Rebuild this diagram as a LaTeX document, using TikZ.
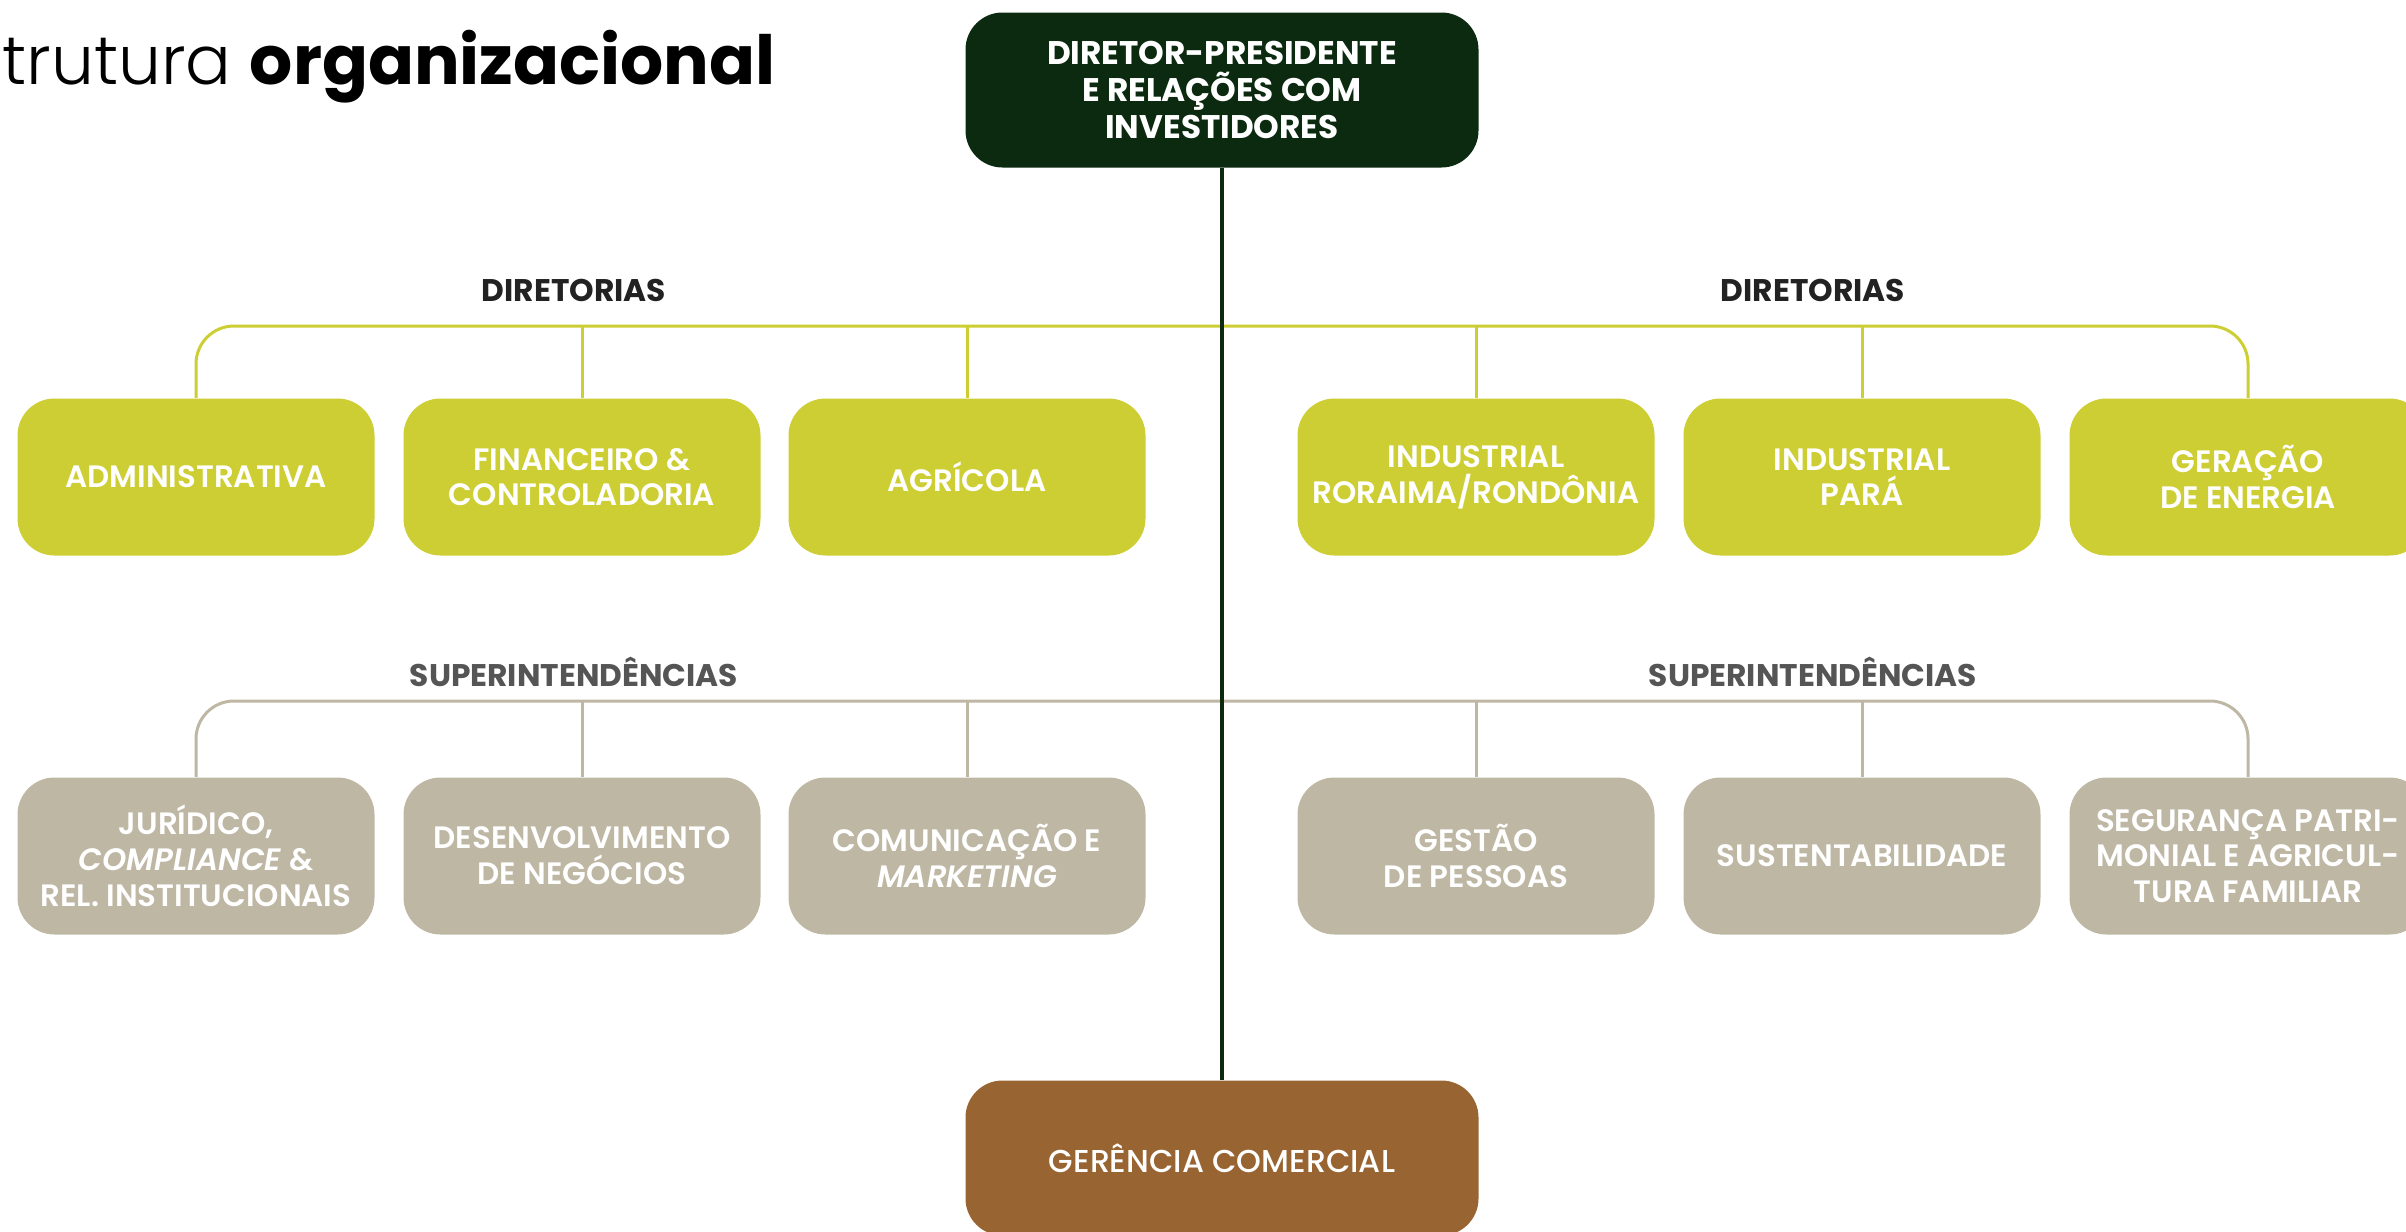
\documentclass[tikz,border=0pt]{standalone}
\usepackage{fontspec}
\setmainfont{Poppins}
\newfontfamily\lightfont{Poppins Light}
\newfontfamily\semifont{Poppins SemiBold}
\newfontfamily\mediumfont{Poppins Medium}
\usetikzlibrary{positioning,calc}

\definecolor{verdeesc}{HTML}{0B2A0F}
\definecolor{amarelo}{HTML}{CDCE34}
\definecolor{bege}{HTML}{BEB7A4}
\definecolor{marrom}{HTML}{986532}
\definecolor{cinzaesc}{HTML}{222222}
\definecolor{cinza}{HTML}{555555}

\tikzset{
  caixa/.style={rounded corners=3.7mm, minimum width=35.7mm, minimum height=15.7mm,
    align=center, text=white, inner sep=0pt, font=\semifont\fontsize{8.8}{10.2}\selectfont},
  diretoria/.style={caixa, fill=amarelo},
  superint/.style={caixa, fill=bege},
  chefe/.style={caixa, minimum width=51.3mm, minimum height=15.5mm},
  rotulo/.style={font=\bfseries\fontsize{8.9}{10}\selectfont, inner sep=0pt},
  ramo/.style={line width=0.3mm, rounded corners=3.8mm}
}

\begin{document}
\begin{tikzpicture}[x=0.1mm,y=-0.1mm]
     \useasboundingbox (0,0) rectangle (2406,1231);
     \node[anchor=base west, inner sep=0pt, font=\fontsize{19.3}{21}\selectfont] (titulo) at (2,84)
          {{\lightfont trutura} \textbf{organizacional}};

     % topo e base
     \node[chefe, fill=verdeesc, font=\bfseries\fontsize{9.3}{10.4}\selectfont] (dp) at (1222,90)
          {DIRETOR-PRESIDENTE\\E RELAÇÕES COM\\INVESTIDORES};
     \node[chefe, fill=marrom, font=\mediumfont\fontsize{9}{10.2}\selectfont] (gc) at (1222,1158) {GERÊNCIA COMERCIAL};

     % diretorias
     \node[diretoria] (adm) at (196,477) {ADMINISTRATIVA};
     \node[diretoria] (fin) at (582,477) {FINANCEIRO \&\\CONTROLADORIA};
     \node[diretoria] (agr) at (967,477) {AGRÍCOLA};
     \node[diretoria] (irr) at (1476,477) {INDUSTRIAL\\RORAIMA/RONDÔNIA};
     \node[diretoria] (ipa) at (1862,477) {INDUSTRIAL\\PARÁ};
     \node[diretoria] (gen) at (2248,477) {GERAÇÃO\\DE ENERGIA};

     % superintendencias
     \node[superint] (jur) at (196,856) {JURÍDICO,\\\textit{COMPLIANCE} \&\\REL. INSTITUCIONAIS};
     \node[superint] (dn) at (582,856) {DESENVOLVIMENTO\\DE NEGÓCIOS};
     \node[superint] (com) at (967,856) {COMUNICAÇÃO E\\\textit{MARKETING}};
     \node[superint] (gp) at (1476,856) {GESTÃO\\DE PESSOAS};
     \node[superint] (sus) at (1862,856) {SUSTENTABILIDADE};
     \node[superint] (seg) at (2248,856) {SEGURANÇA PATRI-\\MONIAL E AGRICUL-\\TURA FAMILIAR};

     \node[rotulo, text=cinzaesc] (ldir1) at (574,290) {DIRETORIAS};
     \node[rotulo, text=cinzaesc] (ldir2) at (1813,290) {DIRETORIAS};
     \node[rotulo, text=cinza] (lsup1) at (574,672) {SUPERINTENDÊNCIAS};
     \node[rotulo, text=cinza] (lsup2) at (1813,672) {SUPERINTENDÊNCIAS};

     \coordinate (bardir) at (0,326);
     \coordinate (barsup) at (0,701);

     \draw[ramo, amarelo] (adm.north) -- (adm.north |- bardir) -- (gen.north |- bardir) -- (gen.north);
     \foreach \n in {fin,agr,irr,ipa}
          \draw[ramo, amarelo] (\n.north) -- (\n.north |- bardir);

     \draw[ramo, bege] (jur.north) -- (jur.north |- barsup) -- (seg.north |- barsup) -- (seg.north);
     \foreach \n in {dn,com,gp,sus}
          \draw[ramo, bege] (\n.north) -- (\n.north |- barsup);

     \draw[line width=0.35mm, verdeesc] (dp.south) -- (gc.north);
\end{tikzpicture}
\end{document}
